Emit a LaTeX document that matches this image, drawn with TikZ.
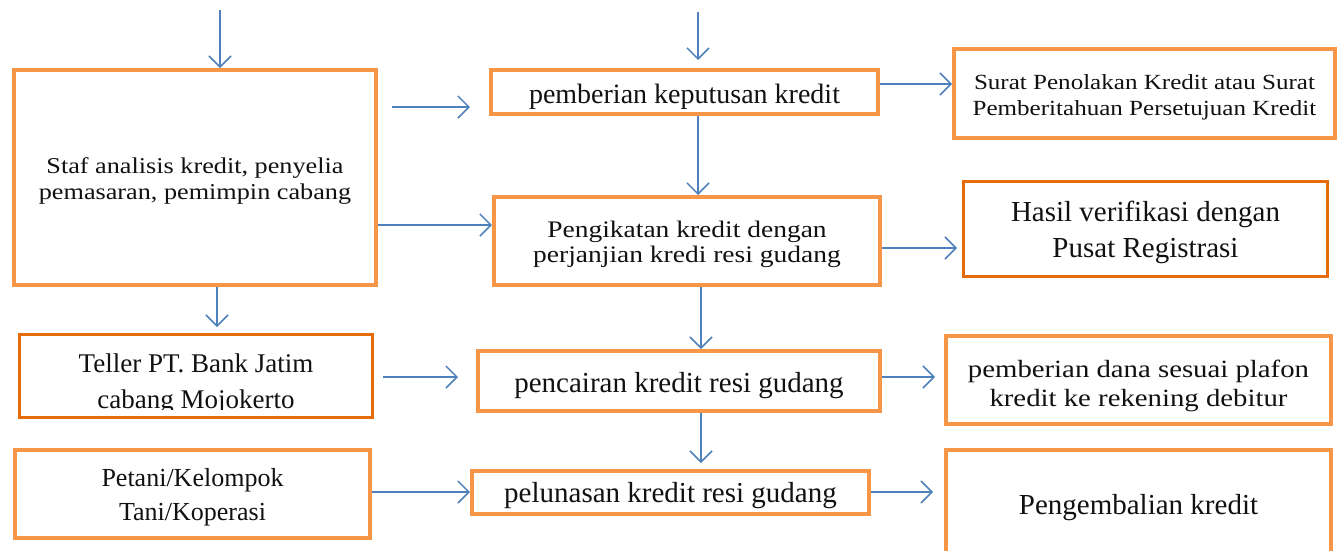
\documentclass[tikz,border=0pt]{standalone}
\usepackage{fontspec}
\setmainfont{Liberation Serif}
\newfontfamily\wf[FakeStretch=1.16]{Liberation Serif}
\usetikzlibrary{arrows.meta}
\definecolor{lor}{HTML}{F79646}
\definecolor{dor}{HTML}{E46C0A}
\definecolor{arrb}{HTML}{4F81BD}
\definecolor{txt}{HTML}{111111}
\tikzset{
  box/.style={draw=lor, line width=4pt, fill=white, inner sep=0pt, align=center, text=txt},
  dbox/.style={box, draw=dor, line width=3pt},
  arr/.style={draw=arrb, line width=1.5pt, -{Straight Barb[length=11pt,width=22pt]}},
}
\newcommand{\fs}[2]{\fontsize{#1}{#2}\selectfont}
\newcommand{\dn}[2]{\raisebox{-#1}[\height][\depth]{\begin{tabular}{@{}c@{}}#2\end{tabular}}}
\begin{document}
\begin{tikzpicture}[x=1pt,y=-1pt]
\clip (0,0) rectangle (1341,550);
\fill[white] (0,0) rectangle (1341,550);
% boxes
\node[box, minimum width=362pt, minimum height=215pt, font=\wf\fs{22.6}{26}] (A) at (195,177.5) {\dn{4pt}{Staf analisis kredit, penyelia\\pemasaran, pemimpin cabang}};
\node[box, minimum width=387pt, minimum height=44pt, font=\fs{28}{30}] (B1) at (684.5,92) {\dn{5pt}{pemberian keputusan kredit}};
\node[box, minimum width=386pt, minimum height=88pt, font=\wf\fs{23.7}{25}] (B2) at (687,241) {\dn{4pt}{Pengikatan kredit dengan\\perjanjian kredi resi gudang}};
\node[box, minimum width=381pt, minimum height=89pt, font=\wf\fs{21.6}{26}] (C1) at (1144.5,93.5) {\dn{4pt}{Surat Penolakan Kredit atau Surat\\Pemberitahuan Persetujuan Kredit}};
\node[dbox, minimum width=364pt, minimum height=95pt, font=\fs{29}{36}] (C2) at (1145.5,229) {\dn{3.5pt}{Hasil verifikasi dengan\\Pusat Registrasi}};
\node[dbox, minimum width=353pt, minimum height=83pt, font=\fs{27}{36}] (T) at (196,376) {\dn{7pt}{Teller PT. Bank Jatim\\cabang Mojokerto}};
\node[box, minimum width=355pt, minimum height=88pt, font=\fs{26}{34}] (Pt) at (192.5,494) {\dn{3pt}{Petani/Kelompok\\Tani/Koperasi}};
\node[box, minimum width=402pt, minimum height=60pt, font=\fs{29}{30}] (Pc) at (679,381) {\dn{5pt}{pencairan kredit resi gudang}};
\node[box, minimum width=397pt, minimum height=43pt, font=\fs{29}{30}] (Pl) at (670.5,492.5) {\dn{4pt}{pelunasan kredit resi gudang}};
\node[box, minimum width=385pt, minimum height=88pt, font=\wf\fs{24.8}{29}] (D1) at (1138.5,380) {\dn{6pt}{pemberian dana sesuai plafon\\kredit ke rekening debitur}};
\node[box, minimum width=385pt, minimum height=106pt, font=\fs{29}{30}] (D2) at (1138.5,503) {\dn{5pt}{Pengembalian kredit}};
% the Teller text box cuts off the foot of its second line
\fill[white] (21,409.5) rectangle (371,416);
% helper coordinates
\coordinate (tA) at (220,10);
\coordinate (tB) at (698,12);
\coordinate (y107) at (0,107);
\coordinate (y225) at (0,225);
\coordinate (y84) at (0,84);
\coordinate (y248) at (0,248);
\coordinate (y377) at (0,377);
\coordinate (y492) at (0,492);
\coordinate (x217) at (217,0);
\coordinate (x698) at (698,0);
\coordinate (x701) at (701,0);
% connectors
\draw[arr] (tA) -- (tA |- A.north);
\draw[arr, shorten >=8pt] (tB) -- (tB |- B1.north);
\draw[arr, shorten <=14pt, shorten >=19pt] (A.east |- y107) -- (B1.west |- y107);
\draw[arr] (A.east |- y225) -- (B2.west |- y225);
\draw[arr, shorten >=6pt] (x217 |- A.south) -- (x217 |- T.north);
\draw[arr] (B1.east |- y84) -- (C1.west |- y84);
\draw[arr] (x698 |- B1.south) -- (x698 |- B2.north);
\draw[arr, shorten >=5pt] (B2.east |- y248) -- (C2.west |- y248);
\draw[arr] (x701 |- B2.south) -- (x701 |- Pc.north);
\draw[arr, shorten <=9pt, shorten >=18pt] (T.east |- y377) -- (Pc.west |- y377);
\draw[arr, shorten >=9pt] (Pc.east |- y377) -- (D1.west |- y377);
\draw[arr, shorten >=6pt] (x701 |- Pc.south) -- (x701 |- Pl.north);
\draw[arr] (Pt.east |- y492) -- (Pl.west |- y492);
\draw[arr, shorten >=11pt] (Pl.east |- y492) -- (D2.west |- y492);
\end{tikzpicture}
\end{document}
